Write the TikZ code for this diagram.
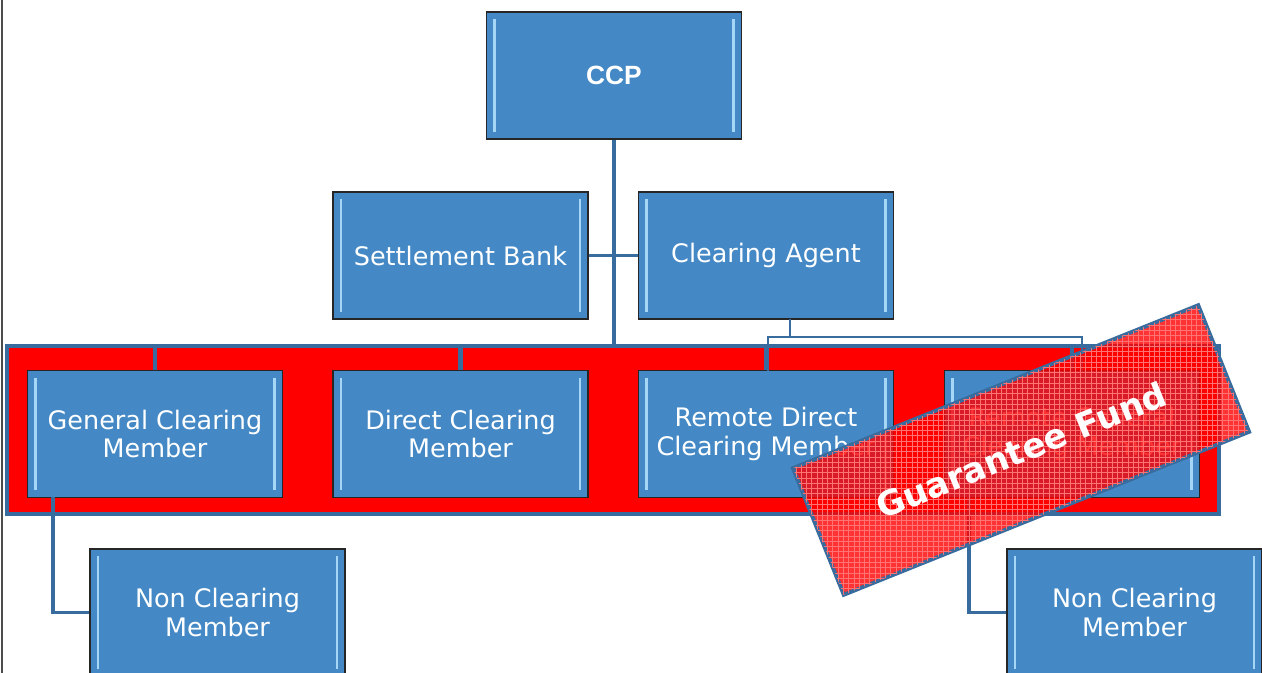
\documentclass[tikz,border=0pt]{standalone}
\usepackage{fontspec}
\setmainfont{DejaVu Sans}
\newfontfamily\arialfont{Liberation Sans}
\usetikzlibrary{patterns}
\definecolor{boxblue}{RGB}{68,137,197}
\definecolor{linkblue}{RGB}{56,108,158}
\definecolor{bevel}{RGB}{165,214,246}
\tikzset{
  box/.style={draw=black!85, line width=0.8pt, fill=boxblue, text=white, align=center,
    minimum width=5.1cm, minimum height=2.54cm, font=\fontsize{14.5}{16}\selectfont,
    path picture={
      \draw[bevel, line width=1.6pt] ([xshift=4.5pt,yshift=-4pt]path picture bounding box.north west)
        -- ([xshift=4.5pt,yshift=4pt]path picture bounding box.south west);
      \draw[bevel, line width=1.6pt] ([xshift=-4.5pt,yshift=-4pt]path picture bounding box.north east)
        -- ([xshift=-4.5pt,yshift=4pt]path picture bounding box.south east);
    }},
  link/.style={draw=linkblue, line width=2.6pt},
  thinlink/.style={draw=linkblue, line width=0.9pt},
  stamp/.style={draw=linkblue, line width=2.2pt, fill=red, fill opacity=0.8, text opacity=1,
    text=white, font=\bfseries\fontsize{19.5}{21}\selectfont,
    minimum width=8.74cm, minimum height=2.73cm,
    postaction={pattern=grid, pattern color=red!55!white}}
}
\begin{document}
\begin{tikzpicture}[x=0.02cm, y=-0.02cm]
\useasboundingbox (0,0) rectangle (1262,673);
\draw[black!70, line width=0.8pt] (2,0) -- (2,673);

% guarantee fund members
\filldraw[fill=red, draw=linkblue, line width=1.8pt] (7,346) rectangle (1219,514);

\node[box, font=\arialfont\bfseries\fontsize{15}{16}\selectfont] (ccp) at (614,75.5) {CCP};
\node[box] (sb) at (460.5,255.5) {Settlement Bank};
\node[box] (ca) at (766,255.5) {Clearing Agent};

\coordinate (bus) at (614,346);
\coordinate (ca tap) at (790,319);
\coordinate (tap) at (790,337);
\coordinate (rdcm top) at (768,371);
\coordinate (rgcm top) at (1082,371);
\coordinate (gcm foot) at (53,497);
\coordinate (rgcm foot) at (969,497);

\draw[link] (ccp.south) -- (bus);
\draw[link, line width=2pt] (sb.east) -- (ca.west);

\foreach \n/\x/\t in {gcm/155/{General Clearing\\Member}, dcm/460.5/{Direct Clearing\\Member},
                      rdcm/766/{Remote Direct\\Clearing Member}, rgcm/1072/{Remote General\\Clearing Member}}
\node[box] (\n) at (\x,434) {\t};

\draw[link] (gcm.north) |- (bus) -| (rgcm.north);
\draw[link] (dcm.north) -- (dcm.north |- bus);
\draw[link] (rdcm.north) -- (rdcm.north |- bus);
\draw[thinlink] (ca tap) -- (tap);
\draw[thinlink] (rdcm top) |- (tap) -| (rgcm top);

\node[box] (ncm1) at (217.5,612.5) {Non Clearing\\Member};
\node[box] (ncm2) at (1134.5,612.5) {Non Clearing\\Member};
\draw[link, line width=1.8pt] (gcm foot) |- (ncm1.west);
\draw[link, line width=1.8pt] (rgcm foot) |- (ncm2.west);

\node[stamp, rotate=21.9] (gf) at (1021,450) {Guarantee Fund};
\end{tikzpicture}
\end{document}
